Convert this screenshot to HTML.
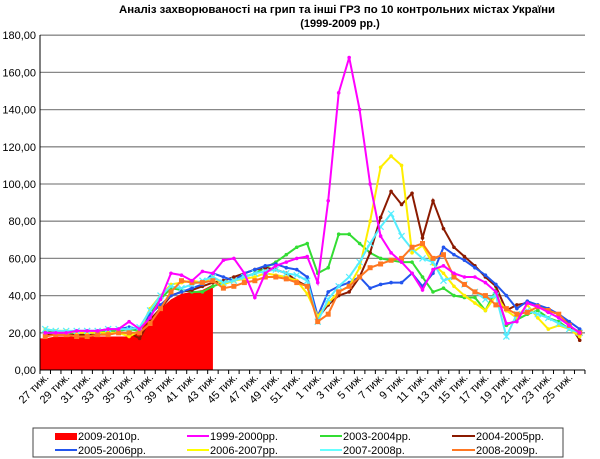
<!DOCTYPE html>
<html><head><meta charset="utf-8"><style>
body{margin:0;background:#fff;}
svg{display:block;font-family:"Liberation Sans","DejaVu Sans",sans-serif;}
</style></head><body>
<svg id="c" width="600" height="459" xmlns="http://www.w3.org/2000/svg">
<text x="337" y="13" font-size="11" font-weight="bold" text-anchor="middle" textLength="436" lengthAdjust="spacingAndGlyphs">Аналіз захворюваності на грип та інші ГРЗ по 10 контрольних містах України</text>
<text x="340" y="27" font-size="11" font-weight="bold" text-anchor="middle">(1999-2009 рр.)</text>
<g id="g"></g>
<rect x="33" y="428" width="530" height="29" fill="#fff" stroke="#444" stroke-width="1"/>
<g font-size="11" fill="#000">
<rect x="55" y="433" width="22" height="7" fill="#ff0000"/>
<text x="78" y="440">2009-2010р.</text>
<line x1="187" y1="436" x2="209" y2="436" stroke="#ff00ff" stroke-width="2"/><text x="210" y="440">1999-2000рр.</text>
<line x1="320" y1="436" x2="342" y2="436" stroke="#33dd33" stroke-width="2"/><text x="343" y="440">2003-2004рр.</text>
<line x1="452" y1="436" x2="475" y2="436" stroke="#8b1a00" stroke-width="2"/><text x="476" y="440">2004-2005рр.</text>
<line x1="55" y1="450" x2="77" y2="450" stroke="#2255ee" stroke-width="2"/><text x="78" y="454">2005-2006рр.</text>
<line x1="187" y1="450" x2="209" y2="450" stroke="#ffff00" stroke-width="2"/><text x="210" y="454">2006-2007рр.</text>
<line x1="320" y1="450" x2="342" y2="450" stroke="#66ffff" stroke-width="2"/><text x="343" y="454">2007-2008р.</text>
<line x1="452" y1="450" x2="475" y2="450" stroke="#ff7722" stroke-width="2"/><text x="476" y="454">2008-2009р.</text>
</g>
</svg>
<script>
var NS="http://www.w3.org/2000/svg",g=document.getElementById("g");
function el(t,a,txt){var e=document.createElementNS(NS,t);for(var k in a)e.setAttribute(k,a[k]);if(txt)e.textContent=txt;g.appendChild(e);return e;}
var X0=40,W=10.48,Y0=370,S=1.86;
function X(i){return X0+W*(i+0.5);}function Y(v){return Y0-v*S;}
for(var v=0;v<=180;v+=20){var y=Y(v);if(v>0)el("line",{x1:40,y1:y,x2:585,y2:y,stroke:"#888","stroke-width":1.3});
el("text",{x:36,y:y+4,"font-size":11,"text-anchor":"end"},v.toFixed(2).replace(".",","));}
var red=[17,18,18,18,18,18,18,18,18,22,27,33,38,41,42,43,46];
var p="M40,370 L40,"+Y(red[0]);for(var i=0;i<red.length;i++)p+=" L"+X(i)+","+Y(red[i]);p+=" L"+X(16)+",370Z";
el("path",{d:p,fill:"#ff0000"});
var series=[
["#33dd33","c",[21,20,20,20,20,20,21,21,22,21,30,38,44,43,42,42,45,47,48,50,52,55,58,62,66,68,52,55,73,73,68,63,60,59,58,58,50,42,44,40,39,39,32,43,24,27,30,32,28,26,22,21]],
["#8b1a00","c",[19,19,19,19,19,19,20,20,20,17,27,33,40,42,43,45,47,48,50,52,54,55,54,52,48,45,28,35,40,42,50,63,82,96,89,95,71,91,76,66,61,56,50,45,32,35,36,34,32,30,25,16]],
["#2255ee","c",[20,20,20,21,21,21,22,22,23,22,30,35,40,42,44,46,52,50,48,52,54,56,57,55,54,50,29,42,45,47,50,44,46,47,47,52,45,52,66,62,59,55,51,46,40,33,37,35,33,30,26,22]],
["#ffee00","c",[22,21,21,20,20,20,20,20,18,21,33,40,46,47,48,47,50,46,48,49,50,52,51,50,48,41,29,36,42,45,55,80,109,115,110,63,67,57,52,45,40,36,32,40,32,28,35,28,22,24,22,18]],
["#55eeff","x",[22,21,21,21,21,21,22,22,22,23,32,40,45,44,46,48,50,47,48,50,52,53,54,52,51,48,26,38,45,50,58,68,77,84,72,65,60,58,48,50,46,42,38,40,18,30,32,30,28,25,22,20]],
["#ff7722","s",[18,19,19,18,18,19,19,20,20,20,25,33,42,48,47,47,48,44,45,47,48,50,50,49,47,45,26,30,42,45,50,55,57,59,60,66,68,60,62,50,46,42,40,35,33,30,31,34,32,30,24,20]],
["#ff00ff","c",[20,20,20,21,21,21,22,22,26,22,28,38,52,51,48,53,52,59,60,52,39,52,56,58,60,61,47,91,149,168,140,100,72,63,58,52,43,54,56,52,50,50,47,42,25,26,36,34,31,28,24,20]]
];
series.forEach(function(s){var d="";s[2].forEach(function(v,i){d+=(i?" L":"M")+X(i).toFixed(1)+","+Y(v).toFixed(1);});
el("path",{d:d,fill:"none",stroke:s[0],"stroke-width":2});
s[2].forEach(function(v,i){var x=X(i),y=Y(v);
if(s[1]=="s")el("rect",{x:x-2.5,y:y-2.5,width:5,height:5,fill:s[0]});
else if(s[1]=="x")el("path",{d:"M"+(x-3)+","+(y-3)+"l6,6M"+(x+3)+","+(y-3)+"l-6,6",stroke:s[0],"stroke-width":1.2});
else el("circle",{cx:x,cy:y,r:1.8,fill:s[0]});});});
el("line",{x1:40,y1:35,x2:40,y2:370,stroke:"#000","stroke-width":1});
el("line",{x1:40,y1:370,x2:585,y2:370,stroke:"#000","stroke-width":1});
for(var i=0;i<=52;i++){var x=X0+W*i;el("line",{x1:x,y1:370,x2:x,y2:374,stroke:"#000"});}
for(var k=0;k<26;k++){var wk=k<13?27+2*k:1+2*(k-13);var x=X(2*k)+4,y=378;
el("text",{x:x,y:y,"font-size":11,"text-anchor":"end",transform:"rotate(-45 "+x+" "+y+")"},wk+" тиж.");}
</script>
</body></html>
